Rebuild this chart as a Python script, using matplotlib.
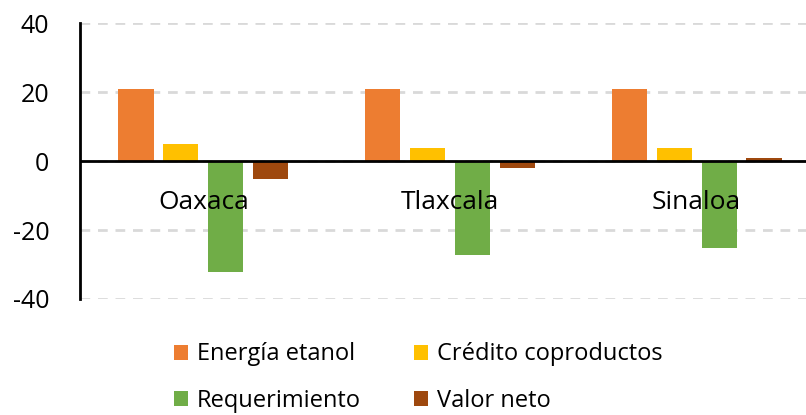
import numpy as np
import matplotlib.pyplot as plt

plt.rcParams['font.family'] = ['Open Sans', 'DejaVu Sans']
plt.rcParams['axes.unicode_minus'] = False

estados = ['Oaxaca', 'Tlaxcala', 'Sinaloa']
energia_etanol = [21, 21, 21]
credito_coproductos = [5, 3.8, 3.8]
requerimiento = [-32.3, -27.2, -25.2]
valor_neto = [-5.2, -2.1, 0.9]

series = ['Energía etanol', 'Crédito coproductos', 'Requerimiento', 'Valor neto']
colores = ['#ED7D31', '#FFC000', '#70AD47', '#9E480E']

fig = plt.figure(figsize=(8.06, 4.15), dpi=100)
ax = fig.add_axes([80 / 806, 116 / 415, 740 / 806, 276 / 415])

x = np.arange(len(estados))
ancho = 0.142
paso = 0.182
datos = [energia_etanol, credito_coproductos, requerimiento, valor_neto]
barras = []
for i, (vals, nombre, c) in enumerate(zip(datos, series, colores)):
    barras.append(ax.bar(x + (i - 1.5) * paso, vals, ancho, color=c, label=nombre, zorder=3))

ax.set_xlim(-0.5, 2.5)
ax.set_ylim(-40, 40)
ax.set_yticks([-40, -20, 0, 20, 40])
ax.set_xticks([])
ax.tick_params(axis='y', length=0, labelsize=18, pad=22)
ax.grid(axis='y', color='#D9D9D9', linestyle=(0, (3.5, 2.8)), linewidth=2, zorder=0)
ax.axhline(0, color='black', linewidth=2, zorder=4)
for s in ['top', 'right', 'bottom']:
    ax.spines[s].set_visible(False)
ax.spines['left'].set_linewidth(2)

for xi, nombre in zip(x, estados):
    ax.text(xi, -12, nombre, ha='center', va='center', fontsize=19, zorder=5)

# orden para que se lea por filas
orden = [0, 2, 1, 3]
fig.legend([barras[i] for i in orden], [series[i] for i in orden],
           loc='center', bbox_to_anchor=(0.519, 0.09), ncol=2, frameon=False,
           fontsize=17, handlelength=0.6, handleheight=0.6, handletextpad=0.4,
           columnspacing=2.23, labelspacing=0.95)

fig.savefig('out.png', dpi=100)
